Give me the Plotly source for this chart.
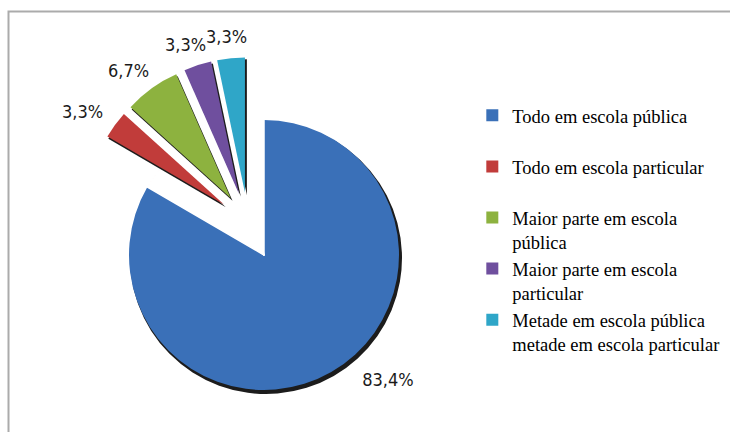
import math
import plotly.graph_objects as go

# Distribuição dos alunos por tipo de escola cursada (%)
categorias = [
    "Todo em escola pública",
    "Todo em escola particular",
    "Maior parte em escola<br>pública",
    "Maior parte em escola<br>particular",
    "Metade em escola pública<br>metade em escola particular",
]
percentuais = [83.4, 3.3, 6.7, 3.3, 3.3]
cores = ["#3A70B8", "#C13C3A", "#8DB23F", "#6F4F9E", "#2FA6C8"]

W, H = 730, 432
CLEAR = "rgba(0,0,0,0)"
SHADOW = "#1c1c1c"
FONTE_ROTULO = "Liberation Sans Narrow, DejaVu Sans Condensed, Arial Narrow, Liberation Sans"
TAM_ROTULO = 18

# legend entries all take two lines so the rows are evenly spaced
rotulos = [c if "<br>" in c else c + "<br> " for c in categorias]


def dominio(cx, cy, r, pull):
    half = r * (1 + pull)
    return dict(x=[(cx - half) / W, (cx + half) / W],
                y=[1 - (cy + half) / H, 1 - (cy - half) / H])


# geometry (pixels): main slice and the exploded group
CX, CY, R = 264, 255, 135
BX, BY = 248, 222
PULL = 0.22
n = len(percentuais)
principal = [i == 0 for i in range(n)]
puxar = [0 if p else PULL for p in principal]

comum = dict(labels=rotulos, values=percentuais, sort=False,
             direction="clockwise", rotation=0, hoverinfo="skip")

fig = go.Figure()

# shadow under the main slice
fig.add_trace(go.Pie(
    **comum, domain=dominio(CX + 2, CY + 3, R + 1, 0), showlegend=False,
    marker=dict(colors=[SHADOW if p else CLEAR for p in principal],
                line=dict(width=0)),
    textinfo="none"))

# full pie (drives the legend), main slice labelled
fig.add_trace(go.Pie(
    **comum, domain=dominio(CX, CY, R, 0), showlegend=True,
    marker=dict(colors=cores, line=dict(width=0)),
    texttemplate=["\u00a0" * 5 + "%{value:.1f}%" if p else "" for p in principal],
    textposition=["outside" if p else "none" for p in principal],
    textfont=dict(family=FONTE_ROTULO, size=TAM_ROTULO, color="#1a1a1a")))

# blank out the small slices of the full pie
fig.add_trace(go.Pie(
    **comum, domain=dominio(CX, CY, R, 0), showlegend=False,
    marker=dict(colors=[CLEAR if p else "white" for p in principal],
                line=dict(color=[CLEAR if p else "white" for p in principal],
                          width=[0 if p else 1.5 for p in principal])),
    textinfo="none"))

# exploded small slices: shadow, then the slices
fig.add_trace(go.Pie(
    **comum, domain=dominio(BX + 2, BY + 3, R + 1, PULL), showlegend=False,
    pull=puxar,
    marker=dict(colors=[CLEAR if p else SHADOW for p in principal],
                line=dict(width=0)),
    textinfo="none"))

fig.add_trace(go.Pie(
    **comum, domain=dominio(BX, BY, R, PULL), showlegend=False,
    pull=puxar,
    marker=dict(colors=[CLEAR if p else c for p, c in zip(principal, cores)],
                line=dict(width=0)),
    textinfo="none"))

# value labels of the exploded slices, just beyond each slice's outer arc
total = sum(percentuais)
acumulado = 0.0
anotacoes = []
for i, v in enumerate(percentuais):
    ang = math.radians(360 * (acumulado + v / 2) / total)
    acumulado += v
    if principal[i]:
        continue
    ux, uy = math.sin(ang), -math.cos(ang)
    fora = R * (1 + PULL)
    px = BX + ux * (fora + 40)
    py = BY + uy * (fora + 22)
    anotacoes.append(dict(
        x=px / W, y=1 - py / H, xref="paper", yref="paper",
        text=f"{v:.1f}%".replace(".", ","), showarrow=False,
        xanchor="center", yanchor="middle",
        font=dict(family=FONTE_ROTULO, size=TAM_ROTULO, color="#1a1a1a")))

fig.update_layout(
    width=W, height=H,
    margin=dict(l=0, r=0, t=0, b=0, autoexpand=False),
    paper_bgcolor="white", plot_bgcolor="white",
    separators=",.",
    annotations=anotacoes,
    legend=dict(x=0.647, y=0.776, xanchor="left", yanchor="top",
                valign="top", itemwidth=30, traceorder="normal",
                font=dict(family="Liberation Serif, Times New Roman, serif",
                          size=18.5, color="black"),
                bgcolor="rgba(0,0,0,0)"),
    shapes=[dict(type="rect", xref="paper", yref="paper",
                 x0=8.5 / W, x1=1.05, y0=-0.05, y1=1 - 11.5 / H,
                 line=dict(color="#ABABAB", width=2), fillcolor=CLEAR,
                 layer="below")],
)

fig.write_html("out.html")
